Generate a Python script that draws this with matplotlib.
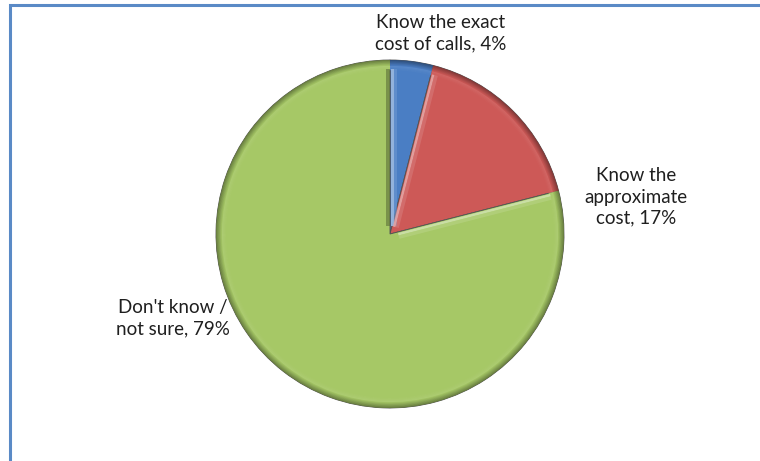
import numpy as np
import matplotlib.pyplot as plt
from matplotlib.patches import Wedge, Polygon
from matplotlib.colors import to_rgb

# survey answers: awareness of call costs
labels = ["Know the exact\ncost of calls, 4%",
          "Know the\napproximate\ncost, 17%",
          "Don't know /\nnot sure, 79%"]
shares = [4, 17, 79]
colors = ["#4A7EC4", "#CD5957", "#A6C866"]

W, H = 760, 461
fig = plt.figure(figsize=(W / 100, H / 100), dpi=100)
ax = fig.add_axes([0, 0, 1, 1])

cx, cy, r = 390, 461 - 234, 174

wedges, _ = ax.pie(shares, colors=colors, startangle=90, counterclock=False,
                   center=(cx, cy), radius=r, frame=True,
                   wedgeprops=dict(edgecolor="#505050", linewidth=0.6))
ax.set_xlim(0, W)
ax.set_ylim(0, H)
ax.set_aspect("equal")
ax.axis("off")


def shade(c, f):
    c = np.array(to_rgb(c))
    if f >= 1:
        return tuple(c + (1 - c) * (f - 1))
    return tuple(c * f)


def strip(ang, d0, d1, color, alpha, side=1):
    # thin band next to a radial edge, on the clockwise side (side=1) or not
    a = np.deg2rad(ang)
    u = np.array([np.cos(a), np.sin(a)])
    n = side * np.array([np.sin(a), -np.cos(a)])
    c0 = np.array([cx, cy])
    pts = [c0 + u * 8 + n * d0, c0 + u * (r - 9) + n * d0,
           c0 + u * (r - 9) + n * d1, c0 + u * 8 + n * d1]
    ax.add_patch(Polygon(pts, closed=True, facecolor=color, edgecolor="none",
                         alpha=alpha, zorder=3))


# soft bevel: darker rim fading into the slice colour, light band inside
for w, c in zip(wedges, colors):
    t1, t2 = w.theta1, w.theta2
    for k in range(10):
        f = 0.62 + 0.04 * k
        ax.add_patch(Wedge((cx, cy), r - 0.6 * k, t1, t2, width=1.0,
                           facecolor=shade(c, f), edgecolor="none", zorder=2))
    for k in range(4):
        ax.add_patch(Wedge((cx, cy), r - 6 - k, t1, t2, width=1.2,
                           facecolor=shade(c, 1.08 - 0.02 * k),
                           edgecolor="none", zorder=2))

# edge highlights on the clockwise side of each boundary
bounds = np.cumsum([0] + shares[:-1])
for b, c in zip(bounds, colors):
    ang = 90 - 360 * b / 100
    strip(ang, 1.0, 3.5, shade(c, 1.45), 0.9)
    strip(ang, 3.5, 7.0, shade(c, 1.2), 0.6)
# shadow on the green side of the top edge
strip(90, 0.5, 4.0, shade(colors[2], 0.55), 0.6, side=-1)

txt = dict(fontsize=13.5, family=["Lato", "DejaVu Sans"], color="#1f1f1f",
           linespacing=1.3, ha="center", va="center")
ax.text(441, 461 - 33, labels[0], **txt)
ax.text(636, 461 - 197, labels[1], **txt)
ax.text(173, 461 - 318, labels[2], **txt)

# chart frame, cut off on the right and bottom
ax.plot([9.5, 9.5, W + 5], [-5, 461 - 5, 461 - 5], color="#5A8AC6", lw=2.2,
        solid_joinstyle="miter", clip_on=False)

fig.savefig("out.png", dpi=100)
